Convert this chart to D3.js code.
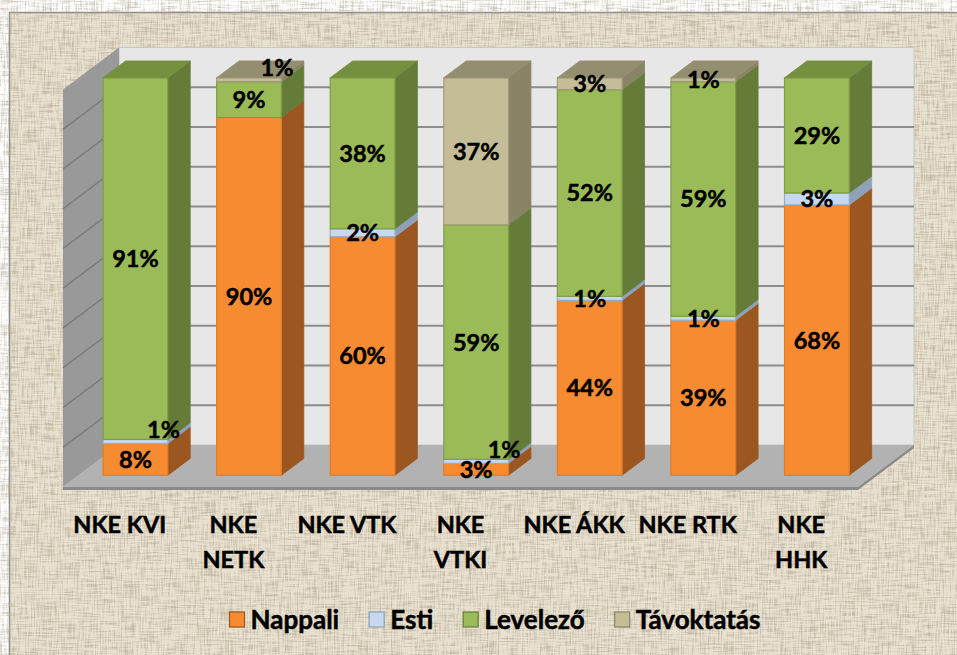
<!DOCTYPE html>
<html>
<head>
<meta charset="utf-8">
<script src="https://cdn.jsdelivr.net/npm/d3@7"></script>
<style>
  html, body { margin: 0; padding: 0; background: #fff; }
  svg { display: block; font-family: Lato, "Open Sans", sans-serif; }
</style>
</head>
<body>
<svg id="chart" width="957" height="655"></svg>
<script>
// data
const categories = ["NKE KVI", "NKE\nNETK", "NKE VTK", "NKE\nVTKI", "NKE ÁKK", "NKE RTK", "NKE\nHHK"];
const seriesNames = ["Nappali", "Esti", "Levelező", "Távoktatás"];
const nappali    = [8, 90, 60, 3, 44, 39, 68];
const esti       = [1, 0, 2, 1, 1, 1, 3];
const levelezo   = [91, 9, 38, 59, 52, 59, 29];
const tavoktatas = [0, 1, 0, 37, 3, 1, 0];
const yTicks = [0, 10, 20, 30, 40, 50, 60, 70, 80, 90, 100];

const colors = {
    "Nappali":    { front: "#f68b31", side: "#9c5620", top: "#f7a25a", stroke: "#e07b26" },
    "Esti":       { front: "#c6d9f1", side: "#8ea1b9", top: "#a9bdd7", stroke: "#94aecb" },
    "Levelező":   { front: "#9bbb59", side: "#647c37", top: "#75903f", stroke: "#7f9c45" },
    "Távoktatás": { front: "#c4bd97", side: "#8a8467", top: "#948e70", stroke: "#a29b78" }
};

const svg = d3.select("#chart");

// chart frame with linen texture
const defs = svg.append("defs");
const linen = defs.append("filter")
    .attr("id", "linen")
    .attr("filterUnits", "userSpaceOnUse")
    .attr("x", 0).attr("y", 0).attr("width", 957).attr("height", 655);
linen.append("feTurbulence")
    .attr("type", "fractalNoise").attr("baseFrequency", "0.05 0.7")
    .attr("numOctaves", 2).attr("seed", 3).attr("result", "n1");
linen.append("feTurbulence")
    .attr("type", "fractalNoise").attr("baseFrequency", "0.7 0.05")
    .attr("numOctaves", 2).attr("seed", 9).attr("result", "n2");
linen.append("feComposite")
    .attr("in", "n1").attr("in2", "n2").attr("operator", "arithmetic")
    .attr("k2", 0.5).attr("k3", 0.5).attr("result", "n");
linen.append("feColorMatrix")
    .attr("in", "n").attr("type", "matrix")
    .attr("values", "0 0 0 0 0.42  0 0 0 0 0.37  0 0 0 0 0.27  4 0 0 0 -1.75");

svg.append("rect")
    .attr("x", 9.5).attr("y", 12.5)
    .attr("width", 960).attr("height", 660)
    .attr("fill", "#e9e1cf")
    .attr("stroke", "#8c8c8c")
    .attr("stroke-width", 1.5);
svg.append("rect")
    .attr("x", 10).attr("y", 13)
    .attr("width", 947).attr("height", 642)
    .attr("fill", "#000")
    .attr("filter", "url(#linen)")
    .attr("opacity", 0.6);

// 3D geometry: front plane of the floor plus a depth offset
const floorLeft = 63, floorRight = 858;
const depth = { dx: 56, dy: -42 };
const barFrontT = 0.28, barBackT = 0.68;

const x = d3.scaleBand()
    .domain(categories)
    .range([floorLeft, floorRight])
    .paddingInner(0.43)
    .paddingOuter(0.215);

const y = d3.scaleLinear()
    .domain([0, 100])
    .range([487, 89.5]);

const px = (xf, t) => xf + depth.dx * t;
const py = (v, t) => y(v) + depth.dy * t;

// walls
const wall = svg.append("g");
wall.append("rect")
    .attr("x", px(floorLeft, 1)).attr("y", py(100, 1))
    .attr("width", floorRight - floorLeft).attr("height", y(0) - y(100))
    .attr("fill", "#e7e7e7")
    .attr("stroke", "#c8c8c8");

wall.append("polygon")
    .attr("points", [[floorLeft, y(0)], [floorLeft, y(100)], [px(floorLeft, 1), py(100, 1)], [px(floorLeft, 1), py(0, 1)]].join(" "))
    .attr("fill", "#999999");

// gridlines on back and side wall
yTicks.filter(v => v > 0 && v < 100).forEach(v => {
    wall.append("line")
        .attr("x1", px(floorLeft, 1)).attr("x2", px(floorRight, 1))
        .attr("y1", py(v, 1)).attr("y2", py(v, 1))
        .attr("stroke", "#8c8c8c").attr("stroke-width", 2);
    wall.append("line")
        .attr("x1", floorLeft).attr("x2", px(floorLeft, 1))
        .attr("y1", py(v, 0)).attr("y2", py(v, 1))
        .attr("stroke", "#7a7a7a").attr("stroke-width", 1.5);
});

// floor
wall.append("polygon")
    .attr("points", [[floorLeft, y(0)], [floorRight, y(0)], [px(floorRight, 1), py(0, 1)], [px(floorLeft, 1), py(0, 1)]].join(" "))
    .attr("fill", "#b2b2b2");
wall.append("polygon")
    .attr("points", [[floorLeft, y(0)], [floorRight, y(0)], [floorRight, y(0) + 3], [floorLeft, y(0) + 3]].join(" "))
    .attr("fill", "#8a8a8a");
wall.append("polygon")
    .attr("points", [[floorRight, y(0)], [px(floorRight, 1), py(0, 1)], [px(floorRight, 1), py(0, 1) + 3], [floorRight, y(0) + 3]].join(" "))
    .attr("fill", "#8a8a8a");

// stacked bars
const rows = categories.map((c, i) => ({
    cat: c,
    "Nappali": nappali[i],
    "Esti": esti[i],
    "Levelező": levelezo[i],
    "Távoktatás": tavoktatas[i]
}));
const stacked = d3.stack().keys(seriesNames)(rows);

const bars = svg.append("g");
const labels = [];

categories.forEach((c, i) => {
    const x0 = x(c), x1 = x(c) + x.bandwidth();
    const fx0 = px(x0, barFrontT), fx1 = px(x1, barFrontT);
    const bx1 = px(x1, barBackT), bx0 = px(x0, barBackT);
    const segs = stacked.map(s => ({ key: s.key, lo: s[i][0], hi: s[i][1] })).filter(s => s.hi > s.lo);
    let prevY = null;
    segs.forEach((s, k) => {
        const col = colors[s.key];
        const yLo = py(s.lo, barFrontT), yHi = py(s.hi, barFrontT);
        const byLo = py(s.lo, barBackT), byHi = py(s.hi, barBackT);
        // side face
        bars.append("polygon")
            .attr("points", [[fx1, yLo], [fx1, yHi], [bx1, byHi], [bx1, byLo]].join(" "))
            .attr("fill", col.side)
            .attr("stroke", col.side).attr("stroke-width", 0.8);
        // front face
        bars.append("rect")
            .attr("x", fx0).attr("y", yHi)
            .attr("width", fx1 - fx0).attr("height", yLo - yHi)
            .attr("fill", col.front)
            .attr("stroke", col.stroke).attr("stroke-width", 1.2);
        // top face on the last segment
        if (k === segs.length - 1) {
            bars.append("polygon")
                .attr("points", [[fx0, yHi], [fx1, yHi], [bx1, byHi], [bx0, byHi]].join(" "))
                .attr("fill", col.top)
                .attr("stroke", col.top).attr("stroke-width", 0.8);
        }
        // label at the centre of the front face, pushed back when crowded
        let lx = (fx0 + fx1) / 2, ly = (yLo + yHi) / 2;
        if (prevY !== null && Math.abs(prevY - ly) < 22) {
            lx += 28;
            ly -= 12;
        }
        prevY = ly;
        labels.push({ x: lx, y: ly, text: Math.round(s.hi - s.lo) + "%" });
    });
});

svg.append("g").selectAll("text")
    .data(labels)
    .join("text")
    .attr("x", d => d.x)
    .attr("y", d => d.y)
    .attr("dy", "0.36em")
    .attr("text-anchor", "middle")
    .attr("font-size", 23.5)
    .attr("font-weight", "bold")
    .attr("fill", "#000")
    .attr("stroke", "#000").attr("stroke-width", 0.5)
    .text(d => d.text);

// category labels
const axis = svg.append("g");
categories.forEach(c => {
    const t = axis.append("text")
        .attr("x", x(c) + x.bandwidth() / 2)
        .attr("y", 533)
        .attr("text-anchor", "middle")
        .attr("font-size", 23.5)
        .attr("font-weight", "bold")
        .attr("fill", "#000")
        .attr("stroke", "#000").attr("stroke-width", 0.5);
    c.split("\n").forEach((line, j) => {
        t.append("tspan")
            .attr("x", x(c) + x.bandwidth() / 2)
            .attr("dy", j === 0 ? 0 : 35)
            .text(line);
    });
});

// legend
const legend = svg.append("g").attr("transform", "translate(0,620)");
const items = legend.selectAll("g")
    .data(seriesNames)
    .join("g");
items.append("rect")
    .attr("x", 0).attr("y", -8)
    .attr("width", 15).attr("height", 15)
    .attr("fill", d => colors[d].front)
    .attr("stroke", d => colors[d].side)
    .attr("stroke-width", 1.2);
items.append("text")
    .attr("x", 21)
    .attr("dy", "0.36em")
    .attr("font-size", 26)
    .attr("font-weight", "bold")
    .attr("fill", "#000")
    .attr("stroke", "#000").attr("stroke-width", 0.5)
    .text(d => d);

const widths = [];
items.each(function () {
    widths.push(21 + this.querySelector("text").getComputedTextLength());
});
const gap = 30;
const total = d3.sum(widths) + gap * (widths.length - 1);
let start = 495 - total / 2;
items.attr("transform", (d, i) => {
    const pos = start;
    start += widths[i] + gap;
    return `translate(${pos},0)`;
});
</script>
</body>
</html>
